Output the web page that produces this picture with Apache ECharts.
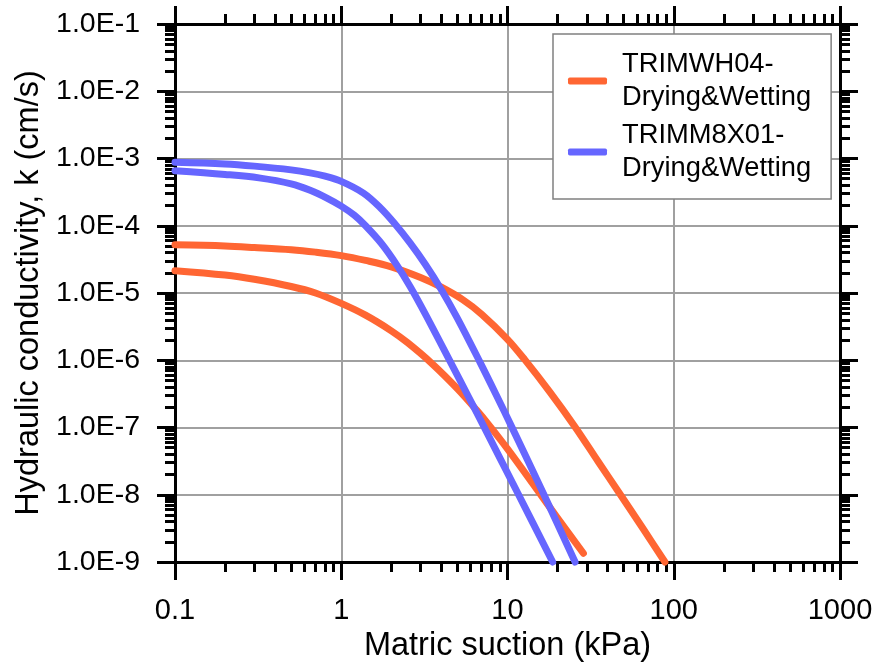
<!DOCTYPE html>
<html>
<head>
<meta charset="utf-8">
<script src="https://cdn.jsdelivr.net/npm/echarts@6/dist/echarts.min.js"></script>
<style>
  html, body { margin: 0; padding: 0; background: #ffffff; }
  #chart { width: 878px; height: 668px; }
</style>
</head>
<body>
<div id="chart"></div>
<script>
// Axis tick labels (one per decade)
const xTickLabels = ['0.1', '1', '10', '100', '1000'];
const yTickLabels = ['1.0E-9', '1.0E-8', '1.0E-7', '1.0E-6', '1.0E-5', '1.0E-4', '1.0E-3', '1.0E-2', '1.0E-1'];

// Legend entries
const seriesNames = ['TRIMWH04-\nDrying&Wetting', 'TRIMM8X01-\nDrying&Wetting'];

// [matric suction (kPa), hydraulic conductivity (cm/s)]
const wh04Upper = [
  [0.1, 5.2e-5], [0.2, 5.0e-5], [0.3, 4.75e-5], [0.5, 4.4e-5], [0.7, 4.05e-5], [1, 3.6e-5],
  [1.4, 3.05e-5], [2, 2.45e-5], [3, 1.7e-5], [4, 1.22e-5], [5.4, 7.9e-6], [7, 4.82e-6],
  [10, 2.05e-6], [12.7, 1.02e-6], [18, 3.36e-7], [25.5, 1.02e-7], [35, 3.15e-8], [46.6, 1.1e-8],
  [65, 3.2e-9], [88.5, 1e-9]
];
const wh04Lower = [
  [0.1, 2.15e-5], [0.2, 1.85e-5], [0.3, 1.6e-5], [0.5, 1.25e-5], [0.7, 1e-5], [1, 7e-6],
  [1.4, 4.68e-6], [2, 2.74e-6], [2.5, 1.83e-6], [3.5, 9.0e-7], [5, 3.77e-7], [6.5, 1.83e-7],
  [7.85, 1.04e-7], [10, 4.8e-8], [15, 1.21e-8], [20, 4.5e-9], [28.6, 1.35e-9]
];
const m8x01Upper = [
  [0.1, 8.8e-4], [0.2, 8.3e-4], [0.3, 7.7e-4], [0.5, 6.77e-4], [0.65, 6.12e-4], [0.8, 5.46e-4],
  [1, 4.57e-4], [1.36, 3.06e-4], [1.7, 1.9e-4], [2.1, 1.07e-4], [2.6, 5.5e-5], [3.2, 2.67e-5],
  [4, 1.12e-5], [5, 4.2e-6], [6.84, 9.3e-7], [8.5, 3.15e-7], [10.8, 9.3e-8], [16.6, 9.9e-9],
  [25.5, 1e-9]
];
const m8x01Lower = [
  [0.1, 6.6e-4], [0.2, 5.8e-4], [0.32, 5.15e-4], [0.5, 4.2e-4], [0.65, 3.37e-4], [0.82, 2.58e-4],
  [1, 1.96e-4], [1.2, 1.43e-4], [1.4, 1.0e-4], [1.75, 5.4e-5], [2.16, 2.6e-5], [2.6, 1.24e-5],
  [3.2, 4.9e-6], [4.5, 9.8e-7], [5.9, 2.7e-7], [7.2, 1.04e-7], [11.5, 1.07e-8], [18.7, 1e-9]
];

const ORANGE = '#ff6633';
const BLUE = '#6666ff';
const FONT = 'Liberation Sans, Arial, sans-serif';

// decade and intermediate (2..9) tick positions
function decades(lo, hi) {
  const out = [];
  for (let e = lo; e <= hi; e++) out.push(Math.pow(10, e));
  return out;
}
function minors(lo, hi) {
  const out = [];
  for (let e = lo; e < hi; e++) {
    for (let m = 2; m <= 9; m++) out.push(m * Math.pow(10, e));
  }
  return out;
}
const xMajor = decades(-1, 3), xMinor = minors(-1, 3);
const yMajor = decades(-9, -1), yMinor = minors(-9, -1);

const black = { color: '#000', width: 3 };

function xAxisDef(pos, ticks, len, main) {
  return {
    type: 'log', logBase: 10, min: 0.1, max: 1000, position: pos,
    gridIndex: 0,
    axisLine: { show: true, onZero: false, lineStyle: black },
    axisTick: { show: true, inside: false, length: len, customValues: ticks, lineStyle: black },
    axisLabel: main ? {
      show: true, customValues: xMajor, margin: 34,
      fontSize: 29, fontFamily: FONT, color: '#000',
      formatter: v => xTickLabels[Math.round(Math.log10(v)) + 1]
    } : { show: false },
    splitLine: main ? { show: true, lineStyle: { color: '#a0a0a0', width: 2 } } : { show: false },
    name: main ? 'Matric suction (kPa)' : '',
    nameLocation: 'middle', nameGap: 66,
    nameTextStyle: { fontSize: 32.5, fontFamily: FONT, color: '#000' }
  };
}
function yAxisDef(pos, ticks, len, main) {
  return {
    type: 'log', logBase: 10, min: 1e-9, max: 1e-1, position: pos,
    gridIndex: 0,
    axisLine: { show: true, onZero: false, lineStyle: black },
    axisTick: { show: true, inside: false, length: len, customValues: ticks, lineStyle: black },
    axisLabel: main ? {
      show: true, customValues: yMajor, margin: 35,
      fontSize: 28.5, fontFamily: FONT, color: '#000',
      formatter: v => yTickLabels[Math.round(Math.log10(v)) + 9]
    } : { show: false },
    splitLine: main ? { show: true, lineStyle: { color: '#a0a0a0', width: 2 } } : { show: false },
    name: main ? 'Hydraulic conductivity, k (cm/s)' : '',
    nameLocation: 'middle', nameGap: 127,
    nameTextStyle: { fontSize: 32.5, fontFamily: FONT, color: '#000' }
  };
}

function curve(name, color, data) {
  return {
    type: 'line', name: name, data: data,
    xAxisIndex: 0, yAxisIndex: 0,
    symbol: 'none', smooth: 0.35, clip: false,
    color: color,
    lineStyle: { color: color, width: 7, cap: 'round', join: 'round' },
    emphasis: { disabled: true }
  };
}

const chart = echarts.init(document.getElementById('chart'), null, { renderer: 'canvas' });
chart.setOption({
  animation: false,
  backgroundColor: '#ffffff',
  grid: { left: 175, right: 38, top: 24, bottom: 106, containLabel: false },
  xAxis: [
    xAxisDef('bottom', xMajor, 18, true),
    xAxisDef('bottom', xMinor, 10, false),
    xAxisDef('top', xMajor, 18, false),
    xAxisDef('top', xMinor, 10, false)
  ],
  yAxis: [
    yAxisDef('left', yMajor, 18, true),
    yAxisDef('left', yMinor, 10, false),
    yAxisDef('right', yMajor, 18, false),
    yAxisDef('right', yMinor, 10, false)
  ],
  legend: {
    data: seriesNames,
    orient: 'vertical',
    left: 553, top: 34,
    padding: [14, 20, 14, 15],
    itemGap: 5,
    itemWidth: 39, itemHeight: 7,
    icon: 'roundRect',
    backgroundColor: '#ffffff',
    borderColor: '#808080', borderWidth: 1.5, borderRadius: 0,
    textStyle: { fontSize: 27.3, lineHeight: 33, fontFamily: FONT, color: '#000', padding: [0, 0, 0, 10] }
  },
  series: [
    curve(seriesNames[0], ORANGE, wh04Upper),
    curve(seriesNames[0], ORANGE, wh04Lower),
    curve(seriesNames[1], BLUE, m8x01Upper),
    curve(seriesNames[1], BLUE, m8x01Lower)
  ]
});
</script>
</body>
</html>
